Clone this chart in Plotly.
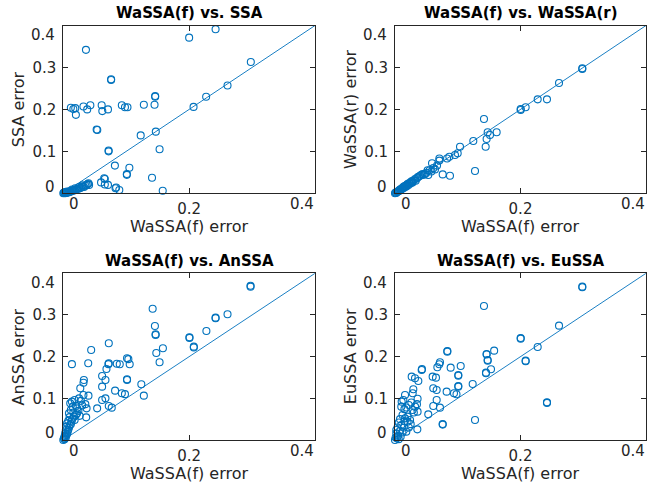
import plotly.graph_objects as go

FONT = "DejaVu Sans"
BLUE = "#0072BD"
AX = "#262626"

titles = ["WaSSA(f) vs. SSA", "WaSSA(f) vs. WaSSA(r)", "WaSSA(f) vs. AnSSA", "WaSSA(f) vs. EuSSA"]
x_label = "WaSSA(f) error"
y_labels = ["SSA error", "WaSSA(r) error", "AnSSA error", "EuSSA error"]
x_ticks = [0, 0.2, 0.4]
y_ticks = [0, 0.1, 0.2, 0.3, 0.4]
axis_range = [0, 0.4]

# Panel 1: WaSSA(f) vs SSA
x_ssa = [0.036, 0.200, 0.242, 0.298, 0.261, 0.227, 0.207, 0.146, 0.146, 0.145,
         0.147, 0.153, 0.123, 0.128, 0.076, 0.076, 0.053, 0.054, 0.072, 0.072,
         0.082, 0.105, 0.101, 0.101, 0.141, 0.158, 0.066, 0.065, 0.060, 0.066,
         0.071, 0.084, 0.083, 0.089,
         0.012, 0.016, 0.019, 0.020, 0.032, 0.038, 0.043, 0.061, 0.062, 0.071,
         0.093, 0.098, 0.102]
y_ssa = [0.342, 0.371, 0.391, 0.313, 0.257, 0.230, 0.206, 0.230, 0.232, 0.211,
         0.147, 0.105, 0.138, 0.211, 0.272, 0.270, 0.152, 0.151, 0.102, 0.100,
         0.066, 0.061, 0.044, 0.046, 0.037, 0.006, 0.034, 0.036, 0.026, 0.021,
         0.020, 0.014, 0.012, 0.008,
         0.204, 0.201, 0.203, 0.187, 0.207, 0.200, 0.210, 0.210, 0.196, 0.200,
         0.210, 0.205, 0.205]
x_ssa_low = [0.000, 0.001, 0.002, 0.003, 0.003, 0.004, 0.005, 0.006, 0.006, 0.007,
             0.008, 0.009, 0.010, 0.011, 0.012, 0.013, 0.014, 0.015, 0.016, 0.018,
             0.019, 0.020, 0.022, 0.024, 0.025, 0.026, 0.028, 0.030, 0.031, 0.033,
             0.035, 0.037, 0.039, 0.040, 0.041]
y_ssa_low = [0.000, 0.002, 0.001, 0.000, 0.003, 0.002, 0.001, 0.002, 0.004, 0.003,
             0.002, 0.004, 0.003, 0.005, 0.004, 0.006, 0.009, 0.006, 0.008, 0.007,
             0.012, 0.009, 0.010, 0.011, 0.015, 0.012, 0.013, 0.019, 0.016, 0.015,
             0.018, 0.020, 0.022, 0.024, 0.020]

# Panel 2: WaSSA(f) vs WaSSA(r)
x_wr = [0.2985, 0.2985, 0.2614, 0.2274, 0.2422, 0.2003, 0.2082, 0.2003, 0.1418, 0.1477,
        0.1514, 0.162, 0.146, 0.1445, 0.1248, 0.1275, 0.1036, 0.0999, 0.0956, 0.0866,
        0.083, 0.0876, 0.076, 0.0707, 0.0707, 0.067, 0.059, 0.0637, 0.061, 0.0553,
        0.058, 0.053, 0.046, 0.048]
y_wr = [0.2963, 0.298, 0.263, 0.224, 0.224, 0.1986, 0.205, 0.201, 0.177, 0.1454,
        0.139, 0.1454, 0.1294, 0.111, 0.1247, 0.053, 0.111, 0.0956, 0.0913, 0.0873,
        0.083, 0.042, 0.045, 0.083, 0.078, 0.066, 0.0715, 0.057, 0.060, 0.055,
        0.052, 0.0437, 0.044, 0.046]
x_wr_low = [0.000, 0.001, 0.002, 0.003, 0.004, 0.005, 0.006, 0.007, 0.008, 0.009,
            0.010, 0.011, 0.012, 0.013, 0.014, 0.015, 0.016, 0.017, 0.018, 0.019,
            0.020, 0.021, 0.022, 0.024, 0.025, 0.026, 0.027, 0.028, 0.030, 0.032,
            0.033, 0.035, 0.036, 0.038, 0.040, 0.042, 0.044, 0.050, 0.052]
y_wr_low = [0.000, 0.002, 0.001, 0.003, 0.004, 0.005, 0.005, 0.007, 0.009, 0.008,
            0.011, 0.010, 0.013, 0.012, 0.016, 0.014, 0.017, 0.018, 0.016, 0.020,
            0.022, 0.019, 0.024, 0.023, 0.027, 0.025, 0.029, 0.026, 0.031, 0.034,
            0.030, 0.036, 0.038, 0.040, 0.042, 0.044, 0.046, 0.049, 0.055]

# Panel 3: WaSSA(f) vs AnSSA
x_an = [0.2976, 0.2976, 0.261, 0.242, 0.242, 0.2274, 0.2005, 0.2005, 0.2074, 0.2074,
        0.142, 0.1456, 0.1467, 0.1467, 0.1478, 0.153, 0.1583, 0.124, 0.128, 0.1013,
        0.1034, 0.1055, 0.1013, 0.1013, 0.098, 0.093, 0.0897, 0.085, 0.0723, 0.0723,
        0.0717, 0.0823, 0.077, 0.0723, 0.0686, 0.067, 0.0617, 0.0617, 0.067, 0.0617,
        0.0538, 0.0443, 0.0396, 0.040, 0.032, 0.0364, 0.037, 0.0327, 0.0321, 0.027,
        0.0137]
y_an = [0.368, 0.370, 0.3016, 0.2936, 0.292, 0.2616, 0.2464, 0.245, 0.224, 0.222,
        0.315, 0.2736, 0.2536, 0.252, 0.2088, 0.1864, 0.22, 0.1336, 0.1064, 0.196,
        0.194, 0.1816, 0.1456, 0.144, 0.110, 0.112, 0.1816, 0.183, 0.232, 0.184,
        0.182, 0.1184, 0.0776, 0.0816, 0.1704, 0.144, 0.1536, 0.128, 0.1, 0.096,
        0.076, 0.216, 0.184, 0.1064, 0.108, 0.0544, 0.076, 0.144, 0.1375, 0.124,
        0.182]
x_an_low = [0.0137, 0.011, 0.018, 0.025, 0.028, 0.035, 0.030, 0.020, 0.022, 0.015,
            0.012, 0.009, 0.016, 0.020, 0.024, 0.026, 0.010, 0.014, 0.008, 0.018,
            0.006, 0.012, 0.005, 0.009, 0.004, 0.007, 0.003, 0.005, 0.002, 0.001,
            0.000, 0.002, 0.004, 0.003, 0.006, 0.008, 0.010, 0.013, 0.017, 0.022]
y_an_low = [0.092, 0.088, 0.096, 0.100, 0.094, 0.086, 0.083, 0.082, 0.076, 0.080,
            0.072, 0.064, 0.066, 0.060, 0.070, 0.058, 0.055, 0.050, 0.046, 0.048,
            0.040, 0.038, 0.032, 0.030, 0.024, 0.020, 0.016, 0.012, 0.008, 0.004,
            0.000, 0.002, 0.006, 0.010, 0.015, 0.025, 0.035, 0.044, 0.056, 0.064]

# Panel 4: WaSSA(f) vs EuSSA
x_eu = [0.2985, 0.2985, 0.2614, 0.2274, 0.2422, 0.2422, 0.2003, 0.2003, 0.2082, 0.2082,
        0.1418, 0.146, 0.146, 0.158, 0.1477, 0.1477, 0.145, 0.145, 0.153, 0.1238,
        0.1275, 0.1047, 0.1009, 0.1009, 0.1009, 0.1009, 0.094, 0.098, 0.0887, 0.0834,
        0.0834, 0.0717, 0.0706, 0.0675, 0.0823, 0.076, 0.076, 0.0664, 0.061, 0.0664,
        0.061, 0.0717, 0.053, 0.060, 0.0653, 0.0425, 0.043, 0.0266, 0.0319, 0.0372,
        0.0292, 0.0282, 0.016, 0.0133, 0.0106, 0.024, 0.0356]
y_eu = [0.3664, 0.368, 0.2744, 0.2232, 0.0904, 0.089, 0.2448, 0.2432, 0.1904, 0.189,
        0.3216, 0.2064, 0.205, 0.2144, 0.192, 0.190, 0.1616, 0.160, 0.1696, 0.1344,
        0.048, 0.1776, 0.156, 0.154, 0.1296, 0.128, 0.112, 0.1096, 0.1736, 0.2136,
        0.212, 0.1864, 0.1816, 0.1744, 0.116, 0.0384, 0.037, 0.12, 0.124, 0.096,
        0.0816, 0.0776, 0.0616, 0.152, 0.1496, 0.168, 0.170, 0.152, 0.148, 0.1416,
        0.1216, 0.112, 0.108, 0.096, 0.092, 0.048, 0.0256]
x_eu_low = [0.036, 0.035, 0.032, 0.028, 0.030, 0.036, 0.018, 0.010, 0.015, 0.012,
            0.008, 0.016, 0.020, 0.006, 0.010, 0.014, 0.004, 0.008, 0.012, 0.002,
            0.005, 0.001, 0.003, 0.000, 0.006, 0.009, 0.018, 0.022, 0.025, 0.002,
            0.015, 0.020, 0.026, 0.022]
y_eu_low = [0.099, 0.086, 0.080, 0.072, 0.066, 0.068, 0.078, 0.080, 0.074, 0.060,
            0.050, 0.052, 0.044, 0.042, 0.036, 0.030, 0.030, 0.022, 0.018, 0.016,
            0.010, 0.006, 0.004, 0.000, 0.002, 0.008, 0.020, 0.030, 0.038, 0.024,
            0.045, 0.056, 0.090, 0.084]

panel_x = [x_ssa + x_ssa_low, x_wr + x_wr_low, x_an + x_an_low, x_eu + x_eu_low]
panel_y = [y_ssa + y_ssa_low, y_wr + y_wr_low, y_an + y_an_low, y_eu + y_eu_low]

W, H = 658, 488
# plot frames in pixels: (left, right, top, bottom)
frames = [(63.3, 315.0, 25.5, 193.3), (395.0, 646.0, 25.5, 193.3),
          (63.3, 315.0, 273.3, 440.0), (395.0, 646.0, 273.3, 440.0)]

fig = go.Figure()
annotations = []
layout_axes = {}
for i in range(4):
    n = "" if i == 0 else str(i + 1)
    xref, yref = "x" + n, "y" + n
    l, r, t, b = frames[i]
    fig.add_trace(go.Scatter(
        x=axis_range, y=axis_range, mode="lines", xaxis=xref, yaxis=yref,
        line=dict(color=BLUE, width=0.9), hoverinfo="skip", showlegend=False))
    fig.add_trace(go.Scatter(
        x=panel_x[i], y=panel_y[i], mode="markers", xaxis=xref, yaxis=yref,
        marker=dict(symbol="circle-open", size=7, color=BLUE, line=dict(width=1.1, color=BLUE)),
        cliponaxis=False, showlegend=False))
    common = dict(range=axis_range, ticks="inside", ticklen=5, tickcolor=AX, tickwidth=1,
                  showline=True, linecolor=AX, linewidth=1, mirror="ticks",
                  showgrid=False, zeroline=False,
                  tickfont=dict(family=FONT, size=15, color=AX))
    layout_axes["xaxis" + n] = dict(common, domain=[l / W, r / W], anchor=yref,
                                    tickvals=x_ticks,
                                    ticktext=[""] + ["%g" % v for v in x_ticks[1:-1]] + [""],
                                    ticklabelstandoff=2)
    layout_axes["yaxis" + n] = dict(common, domain=[1 - b / H, 1 - t / H], anchor=xref,
                                    tickvals=y_ticks,
                                    ticktext=[""] + ["%g" % v for v in y_ticks[1:-1]] + [""],
                                    ticklabelstandoff=3)
    xd, yd = xref + " domain", yref + " domain"
    tf = dict(family=FONT, size=15, color=AX)
    # edge tick labels (drawn nudged inward, as in the original)
    annotations += [
        dict(text="%g" % x_ticks[0], xref=xd, yref=yd, x=0, y=0, xanchor="center", yanchor="middle",
             xshift=10.5, yshift=-11, showarrow=False, font=tf),
        dict(text="%g" % x_ticks[-1], xref=xd, yref=yd, x=1, y=0, xanchor="right", yanchor="middle",
             xshift=1, yshift=-11, showarrow=False, font=tf),
        dict(text="%g" % y_ticks[0], xref=xd, yref=yd, x=0, y=0, xanchor="right", yanchor="middle",
             xshift=-6, yshift=6.6, showarrow=False, font=tf),
        dict(text="%g" % y_ticks[-1], xref=xd, yref=yd, x=0, y=1, xanchor="right", yanchor="middle",
             xshift=-6, yshift=-9.5, showarrow=False, font=tf),
        dict(text="<b>%s</b>" % titles[i], xref=xd, yref=yd, x=0.5, y=1, xanchor="center",
             yanchor="middle", yshift=12.8, showarrow=False,
             font=dict(family=FONT, size=15, color="#000000")),
        dict(text=x_label, xref=xd, yref=yd, x=0.5, y=0, xanchor="center", yanchor="middle",
             yshift=-33, showarrow=False, font=dict(family=FONT, size=16, color=AX)),
        dict(text=y_labels[i], xref=xd, yref=yd, x=0, y=0.5, xanchor="center", yanchor="middle",
             xshift=-44.5, textangle=-90, showarrow=False, font=dict(family=FONT, size=16, color=AX)),
    ]

fig.update_layout(width=W, height=H, margin=dict(l=0, r=0, t=0, b=0),
                  paper_bgcolor="white", plot_bgcolor="white",
                  showlegend=False, annotations=annotations, **layout_axes)
fig.write_html("out.html")
